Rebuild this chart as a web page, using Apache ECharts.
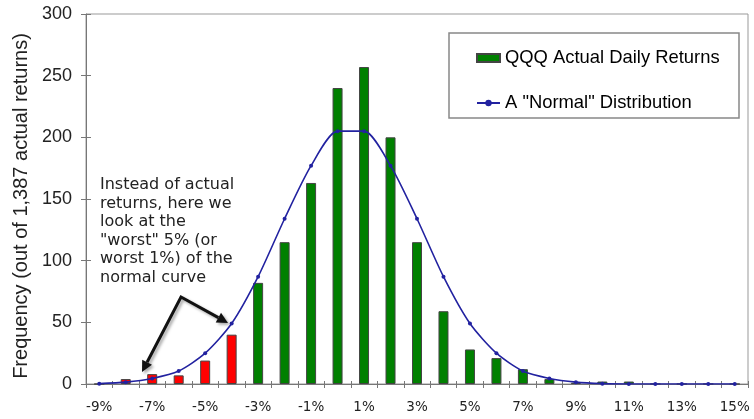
<!DOCTYPE html>
<html>
<head>
<meta charset="utf-8">
<script src="https://cdn.jsdelivr.net/npm/echarts@6/dist/echarts.min.js"></script>
<style>
html,body{margin:0;padding:0;background:#fff;}
#c{width:754px;height:419px;}
</style>
</head>
<body>
<div id="c"></div>
<script>
const categories = ['-9%','-8%','-7%','-6%','-5%','-4%','-3%','-2%','-1%','0%','1%','2%','3%','4%','5%','6%','7%','8%','9%','10%','11%','12%','13%','14%','15%'];
const actualReturns = [0,4,8,7,19,40,82,115,163,240,257,200,115,59,28,21,12,4,1,2,2,0,0,0,0];
const normalCurve = [0.3,1.5,4.5,10.5,25,49,87,134,177,205,205,177,134,87,49,25,10.5,4.5,1.5,0.3,0,0,0,0,0];
const redCategories = ['-8%','-7%','-6%','-5%','-4%'];
const yTicks = [0,50,100,150,200,250,300];
const seriesNames = ['QQQ Actual Daily Returns', 'A "Normal" Distribution'];
const noteLines = ['Instead of actual','returns, here we','look at the','"worst" 5% (or','worst 1%) of the','normal curve'];

const GREEN = '#008000', RED = '#ff0000', NAVY = '#2222a0';

const barData = actualReturns.map((v, i) => {
  const isRed = redCategories.indexOf(categories[i]) >= 0;
  return isRed ? { value: v, itemStyle: { color: RED } } : v;
});

function arrow(x1, y1, x2, y2) {
  const dx = x2 - x1, dy = y2 - y1, L = Math.hypot(dx, dy);
  const ux = dx / L, uy = dy / L, nx = -uy, ny = ux;
  const hl = 11, hw = 5.5;
  const bx = x2 - ux * hl, by = y2 - uy * hl;
  return [bx, by, [[x2, y2], [bx + nx * hw, by + ny * hw], [bx - nx * hw, by - ny * hw]]];
}
const apex = [181, 297];
const a1 = arrow(apex[0], apex[1], 142, 372);
const a2 = arrow(apex[0], apex[1], 228, 323);
const shadow = { shadowBlur: 3, shadowOffsetX: 2, shadowOffsetY: 2, shadowColor: 'rgba(0,0,0,0.35)' };

const chart = echarts.init(document.getElementById('c'), null, { renderer: 'canvas' });
chart.setOption({
  animation: false,
  backgroundColor: '#fff',
  grid: { left: 86, right: 6, top: 14, bottom: 35, show: true, borderColor: '#999', borderWidth: 1 },
  legend: {
    orient: 'vertical',
    left: 476, top: 49,
    padding: 0,
    itemWidth: 23, itemHeight: 8,
    itemGap: 27,
    data: [{ name: seriesNames[0], icon: 'rect' }, { name: seriesNames[1] }],
    textStyle: { fontFamily: 'Liberation Sans, Arial', fontSize: 18.4, color: '#000' }
  },
  xAxis: [{
    type: 'category',
    data: categories,
    position: 'bottom',
    boundaryGap: true,
    axisLine: { lineStyle: { color: '#777', width: 1 } },
    axisTick: { show: true, interval: 0, length: 4, lineStyle: { color: '#777' } },
    axisLabel: { interval: 1, margin: 16, fontFamily: 'DejaVu Sans', fontSize: 13.5, color: '#222' },
    splitLine: { show: false }
  }, {
    type: 'category',
    data: categories,
    position: 'bottom',
    boundaryGap: true,
    axisLine: { show: false },
    axisTick: { show: true, inside: true, interval: 0, length: 3, lineStyle: { color: '#777' } },
    axisLabel: { show: false },
    splitLine: { show: false }
  }],
  yAxis: [{
    type: 'value',
    min: yTicks[0], max: yTicks[yTicks.length - 1], interval: 50,
    position: 'left',
    name: 'Frequency (out of 1,387 actual returns)',
    nameLocation: 'middle',
    nameGap: 52,
    nameTextStyle: { fontFamily: 'Liberation Sans, Arial', fontSize: 20, color: '#222', padding: [0, 14, 0, 0] },
    axisLine: { show: true, lineStyle: { color: '#777', width: 1 } },
    axisTick: { show: true, length: 5, lineStyle: { color: '#777' } },
    axisLabel: { margin: 14, fontFamily: 'Liberation Sans, Arial', fontSize: 18, color: '#222' },
    splitLine: { show: false }
  }, {
    type: 'value',
    min: yTicks[0], max: yTicks[yTicks.length - 1], interval: 50,
    position: 'left',
    axisLine: { show: false },
    axisTick: { show: true, inside: true, length: 5, lineStyle: { color: '#777' } },
    axisLabel: { show: false },
    splitLine: { show: false }
  }],
  series: [{
    name: seriesNames[0],
    type: 'bar',
    xAxisIndex: 0, yAxisIndex: 0,
    data: barData,
    barWidth: 10,
    itemStyle: { color: GREEN, borderColor: '#444', borderWidth: 1 }
  }, {
    name: seriesNames[1],
    type: 'line',
    xAxisIndex: 0, yAxisIndex: 0,
    data: normalCurve,
    smooth: 0.25,
    symbol: 'circle',
    symbolSize: 4,
    lineStyle: { color: NAVY, width: 1.6 },
    itemStyle: { color: NAVY },
    z: 5
  }],
  graphic: [
    { type: 'rect', z: 50, shape: { x: 449, y: 33, width: 290, height: 85 }, style: { fill: 'none', stroke: '#888', lineWidth: 1.5 } },
    { type: 'text', z: 50, left: 100, top: 176, style: { text: noteLines.join('\n'), font: '16px "DejaVu Sans"', lineHeight: 18.5, fill: '#222' } },
    { type: 'polyline', z: 60, shape: { points: [[a1[0], a1[1]], apex, [a2[0], a2[1]]] }, style: Object.assign({ stroke: '#111', lineWidth: 3, fill: 'none', lineJoin: 'miter' }, shadow) },
    { type: 'polygon', z: 60, shape: { points: a1[2] }, style: Object.assign({ fill: '#111' }, shadow) },
    { type: 'polygon', z: 60, shape: { points: a2[2] }, style: Object.assign({ fill: '#111' }, shadow) }
  ]
});
</script>
</body>
</html>
